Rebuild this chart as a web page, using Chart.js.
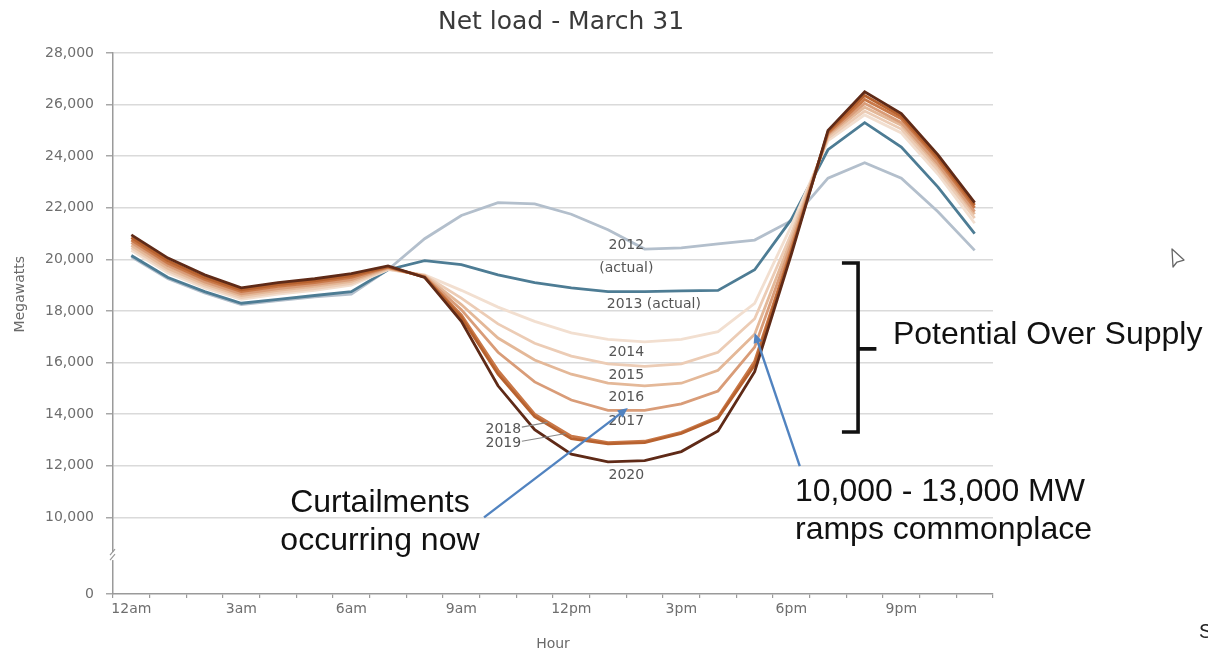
<!DOCTYPE html>
<html>
<head>
<meta charset="utf-8">
<script src="https://cdn.jsdelivr.net/npm/chart.js@4/dist/chart.umd.min.js"></script>
<style>
  html, body { margin: 0; padding: 0; background: #ffffff; }
  #wrap { width: 1208px; height: 653px; position: relative; }
</style>
</head>
<body>
<div id="wrap"><canvas id="duck" width="1208" height="653"></canvas></div>
<script>
// Hourly categories (hour beginning) and the labels shown every three hours
const hours = ['12am','1am','2am','3am','4am','5am','6am','7am','8am','9am','10am','11am',
               '12pm','1pm','2pm','3pm','4pm','5pm','6pm','7pm','8pm','9pm','10pm','11pm'];
const hourTickLabels = ['12am','3am','6am','9am','12pm','3pm','6pm','9pm'];

// Vertical axis: broken between 0 and 10,000
const axisFloor = 7030;            // value at which the "0" baseline sits
const yTickValues = [10000,12000,14000,16000,18000,20000,22000,24000,26000,28000];
const yTickLabels = ['0','10,000','12,000','14,000','16,000','18,000','20,000','22,000','24,000','26,000','28,000'];

// Net load, MW, for each hour of March 31
const years = ['2012','2013','2014','2015','2016','2017','2018','2019','2020'];
const load2012 = [20100,19250,18700,18250,18400,18550,18650,19600,20800,21700,22200,22150,21750,21150,20400,20450,20600,20750,21500,23150,23750,23150,21850,20350];
const load2013 = [20150,19300,18750,18300,18450,18600,18750,19600,19950,19800,19400,19100,18900,18750,18750,18780,18800,19600,21550,24250,25300,24350,22800,21000];
const load2014 = [20350,19470,18890,18450,18650,18800,19000,19600,19400,18800,18150,17600,17150,16900,16800,16900,17200,18300,21300,24600,25600,24900,23300,21400];
const load2015 = [20450,19560,18970,18520,18720,18870,19070,19620,19380,18500,17500,16750,16250,15950,15850,15950,16400,17700,21000,24700,25750,25050,23450,21600];
const load2016 = [20550,19650,19050,18600,18800,18950,19150,19650,19360,18250,16950,16100,15550,15200,15100,15200,15700,17100,20800,24800,25900,25200,23600,21750];
const load2017 = [20650,19750,19130,18670,18870,19020,19220,19680,19340,18050,16400,15250,14550,14150,14150,14400,14900,16600,20600,24850,26050,25300,23700,21850];
const load2018 = [20750,19850,19220,18750,18950,19100,19300,19700,19320,17850,15700,14000,13150,12900,12950,13300,13900,16050,20400,24900,26200,25450,23850,22000];
const load2019 = [20850,19950,19300,18820,19020,19170,19370,19720,19310,17750,15550,13900,13050,12850,12900,13250,13850,15900,20300,24950,26350,25550,23950,22100];
const load2020 = [20950,20050,19400,18900,19100,19250,19450,19750,19300,17600,15100,13400,12450,12150,12200,12550,13350,15650,20200,25000,26500,25650,24050,22200];
const loads = [load2012, load2013, load2014, load2015, load2016, load2017, load2018, load2019, load2020];

const lineColors = ['#b3bfcc','#4d7c94','#f2dfd0','#ecccb5','#e4b898','#d99c78','#c97848','#b8622f','#5f2a17'];

const axisFont = '"DejaVu Sans", sans-serif';
const labelFont = '14px "DejaVu Sans", sans-serif';
const bigFont = '32px "Liberation Sans", Arial, sans-serif';

function arrow(ctx, x1, y1, x2, y2, color) {
  const ang = Math.atan2(y2 - y1, x2 - x1);
  const head = 11, spread = 0.42;
  ctx.save();
  ctx.strokeStyle = color; ctx.fillStyle = color; ctx.lineWidth = 2.4;
  ctx.beginPath();
  ctx.moveTo(x1, y1);
  ctx.lineTo(x2 - Math.cos(ang) * head * 0.7, y2 - Math.sin(ang) * head * 0.7);
  ctx.stroke();
  ctx.beginPath();
  ctx.moveTo(x2, y2);
  ctx.lineTo(x2 - head * Math.cos(ang - spread), y2 - head * Math.sin(ang - spread));
  ctx.lineTo(x2 - head * Math.cos(ang + spread), y2 - head * Math.sin(ang + spread));
  ctx.closePath();
  ctx.fill();
  ctx.restore();
}

const overlay = {
  id: 'overlay',
  afterDraw(chart) {
    const { ctx } = chart;
    const xs = chart.scales.x, ys = chart.scales.y;
    const px = i => xs.getPixelForValue(i);
    const py = v => ys.getPixelForValue(v);

    ctx.save();

    // Title
    ctx.fillStyle = '#3a3a3a';
    ctx.font = '25px "DejaVu Sans", sans-serif';
    ctx.textAlign = 'center'; ctx.textBaseline = 'middle';
    ctx.fillText('Net load - March 31', 561, 22);

    // Vertical axis title
    ctx.save();
    ctx.translate(20, py(18650));
    ctx.rotate(-Math.PI / 2);
    ctx.fillStyle = '#6a6a6a';
    ctx.font = '14px ' + axisFont;
    ctx.fillText('Megawatts', 0, 0);
    ctx.restore();

    // Break marks on the vertical axis
    const bx = xs.left, by = py(8500);
    ctx.fillStyle = '#ffffff';
    ctx.fillRect(bx - 3, by - 4, 6, 8);
    ctx.strokeStyle = '#999999'; ctx.lineWidth = 1.2;
    ctx.beginPath();
    ctx.moveTo(bx - 3, by - 1); ctx.lineTo(bx + 2, by - 7);
    ctx.moveTo(bx - 3, by + 4); ctx.lineTo(bx + 2, by - 2);
    ctx.stroke();

    // Year labels
    ctx.fillStyle = '#555555';
    ctx.font = labelFont;
    ctx.textAlign = 'center';
    ctx.fillText('2012', px(13.5), py(20560));
    ctx.fillText('(actual)', px(13.5), py(19670));
    ctx.fillText('2013 (actual)', px(14.25), py(18270));
    ctx.fillText('2014', px(13.5), py(16410));
    ctx.fillText('2015', px(13.5), py(15520));
    ctx.fillText('2016', px(13.5), py(14670));
    ctx.fillText('2017', px(13.5), py(13740));
    ctx.fillText('2020', px(13.5), py(11640));
    ctx.textAlign = 'right';
    ctx.fillText('2018', px(10.63), py(13430));
    ctx.fillText('2019', px(10.63), py(12880));

    // Leader lines for 2018 and 2019
    ctx.strokeStyle = '#8a8a8a'; ctx.lineWidth = 1.2;
    ctx.beginPath();
    ctx.moveTo(px(10.65), py(13500)); ctx.lineTo(px(11.35), py(13680));
    ctx.moveTo(px(10.65), py(12950)); ctx.lineTo(px(11.85), py(13250));
    ctx.stroke();

    // Blue pointers
    const blue = '#5183c0';
    arrow(ctx, px(9.62), py(10000), px(13.54), py(14240), blue);
    arrow(ctx, px(18.23), py(11990), px(17.0), py(17150), blue);

    // Bracket around the over-supply band
    ctx.strokeStyle = '#111111'; ctx.lineWidth = 3.6; ctx.lineJoin = 'miter';
    ctx.beginPath();
    ctx.moveTo(px(19.38), py(19860)); ctx.lineTo(px(19.82), py(19860));
    ctx.lineTo(px(19.82), py(13310)); ctx.lineTo(px(19.38), py(13310));
    ctx.moveTo(px(19.82), py(16530)); ctx.lineTo(px(20.32), py(16530));
    ctx.stroke();

    // Callout texts
    ctx.fillStyle = '#111111';
    ctx.font = bigFont;
    ctx.textAlign = 'left';
    ctx.fillText('Potential Over Supply', px(20.77), py(17070));
    ctx.fillText('10,000 - 13,000 MW', px(18.1), py(10980));
    ctx.fillText('ramps commonplace', px(18.1), py(9510));
    ctx.textAlign = 'center';
    ctx.fillText('Curtailments', px(6.78), py(10560));
    ctx.fillText('occurring now', px(6.78), py(9090));

    // Pointer glyph and trailing letter at the right edge
    ctx.strokeStyle = '#666666'; ctx.lineWidth = 1.3; ctx.lineJoin = 'round';
    ctx.beginPath();
    ctx.moveTo(1172, 249); ctx.lineTo(1173, 267); ctx.lineTo(1177, 262);
    ctx.lineTo(1184, 260); ctx.closePath();
    ctx.stroke();
    ctx.fillStyle = '#222222';
    ctx.font = '20px "Liberation Sans", Arial, sans-serif';
    ctx.textAlign = 'left';
    ctx.fillText('S', 1199, 632);

    ctx.restore();
  }
};

const datasets = years.map((yr, i) => ({
  label: yr,
  data: loads[i],
  borderColor: lineColors[i],
  borderWidth: 2.8,
  pointRadius: 0,
  tension: 0,
  fill: false,
  order: years.length - 1 - i
}));

new Chart(document.getElementById('duck'), {
  type: 'line',
  data: { labels: hours, datasets },
  options: {
    responsive: false,
    animation: false,
    devicePixelRatio: 1,
    layout: { padding: { left: 0, right: 215, top: 53, bottom: 0 } },
    plugins: { legend: { display: false }, tooltip: { enabled: false }, title: { display: false } },
    scales: {
      x: {
        type: 'category',
        offset: true,
        afterFit(scale) { scale.height = 59; },
        border: { color: '#9a9a9a', width: 1.5 },
        grid: { display: true, drawOnChartArea: false, drawTicks: true, tickLength: 4, offset: true, color: '#9a9a9a', lineWidth: 1.2 },
        ticks: {
          autoSkip: false, maxRotation: 0, padding: 3,
          color: '#6e6e6e', font: { family: axisFont, size: 14 },
          callback: (v, i) => (i % 3 === 0 ? hourTickLabels[i / 3] : '')
        },
        title: { display: true, text: 'Hour', color: '#6a6a6a', font: { family: axisFont, size: 14 }, padding: { top: 0, bottom: 0 } }
      },
      y: {
        type: 'linear',
        min: axisFloor,
        max: 28000,
        afterFit(scale) { scale.width = 113; },
        afterBuildTicks(scale) {
          scale.ticks = [axisFloor, ...yTickValues].map(v => ({ value: v }));
        },
        border: { color: '#9a9a9a', width: 1.5 },
        grid: {
          color: ctx => (ctx.tick && ctx.tick.value === axisFloor ? 'rgba(0,0,0,0)' : '#dadada'),
          tickColor: '#a8a8a8',
          lineWidth: 1.5,
          tickLength: 7
        },
        ticks: {
          padding: 12,
          color: '#6e6e6e', font: { family: axisFont, size: 14 },
          callback: (v, i) => yTickLabels[i]
        },
        title: { display: false }
      }
    }
  },
  plugins: [overlay]
});
</script>
</body>
</html>
